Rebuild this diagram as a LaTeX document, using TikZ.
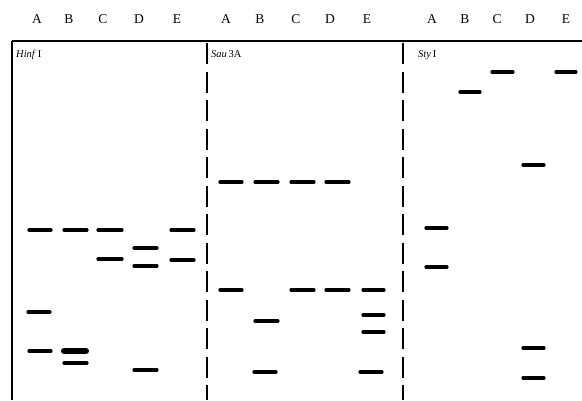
\documentclass[tikz,border=0pt]{standalone}
\usepackage{fontspec}
\setmainfont{Liberation Serif}
\begin{document}
\begin{tikzpicture}[x=1pt,y=-1pt,
  band/.style={line width=3.2pt,line cap=round},
  thickband/.style={line width=6pt,line cap=round},
  frame/.style={line width=1.6pt},
  divider/.style={line width=2pt,dash pattern=on 21pt off 7.5pt},
  lane/.style={font=\fontsize{13.5}{13.5}\selectfont,anchor=base},
  plabel/.style={font=\fontsize{10.5}{10.5}\selectfont,anchor=base west,inner sep=0pt}]
\useasboundingbox (0,0) rectangle (582,400);
% frame
\draw[frame] (12,41) -- (582,41);
\draw[frame] (12,41) -- (12,400);
\draw[divider] (207,43) -- (207,400);
\draw[divider] (403,43) -- (403,400);
% lane labels
\foreach \x/\t in {37/A,69/B,103/C,139/D,177/E,226/A,260/B,296/C,330/D,367/E,432/A,465/B,497/C,530/D,566/E}
  \node[lane] at (\x,23) {\t};
% panel labels
\node[plabel] (h) at (16,57) {\textit{Hinf}\,I};
\node[plabel] (s) at (211,57) {\textit{Sau}\,3A};
\node[plabel] (t) at (418,57) {\textit{Sty}\,I};
% Hinf I bands
\draw[band] (29,230) -- (51,230);
\draw[band] (64,230) -- (87,230);
\draw[band] (98,230) -- (122,230);
\draw[band] (171,230) -- (194,230);
\draw[band] (134,248) -- (157,248);
\draw[band] (98,259) -- (122,259);
\draw[band] (171,260) -- (194,260);
\draw[band] (134,266) -- (157,266);
\draw[band] (28,312) -- (50,312);
\draw[band] (29,351) -- (51,351);
\draw[thickband] (64,351) -- (86,351);
\draw[band] (64,363) -- (87,363);
\draw[band] (134,370) -- (157,370);
% Sau 3A bands
\draw[band] (220,182) -- (242,182);
\draw[band] (255,182) -- (278,182);
\draw[band] (291,182) -- (314,182);
\draw[band] (326,182) -- (349,182);
\draw[band] (220,290) -- (242,290);
\draw[band] (291,290) -- (314,290);
\draw[band] (326,290) -- (349,290);
\draw[band] (363,290) -- (384,290);
\draw[band] (363,315) -- (384,315);
\draw[band] (255,321) -- (278,321);
\draw[band] (363,332) -- (384,332);
\draw[band] (254,372) -- (276,372);
\draw[band] (360,372) -- (382,372);
% Sty I bands
\draw[band] (492,72) -- (513,72);
\draw[band] (556,72) -- (576,72);
\draw[band] (460,92) -- (480,92);
\draw[band] (523,165) -- (544,165);
\draw[band] (426,228) -- (447,228);
\draw[band] (426,267) -- (447,267);
\draw[band] (523,348) -- (544,348);
\draw[band] (523,378) -- (544,378);
\end{tikzpicture}
\end{document}
